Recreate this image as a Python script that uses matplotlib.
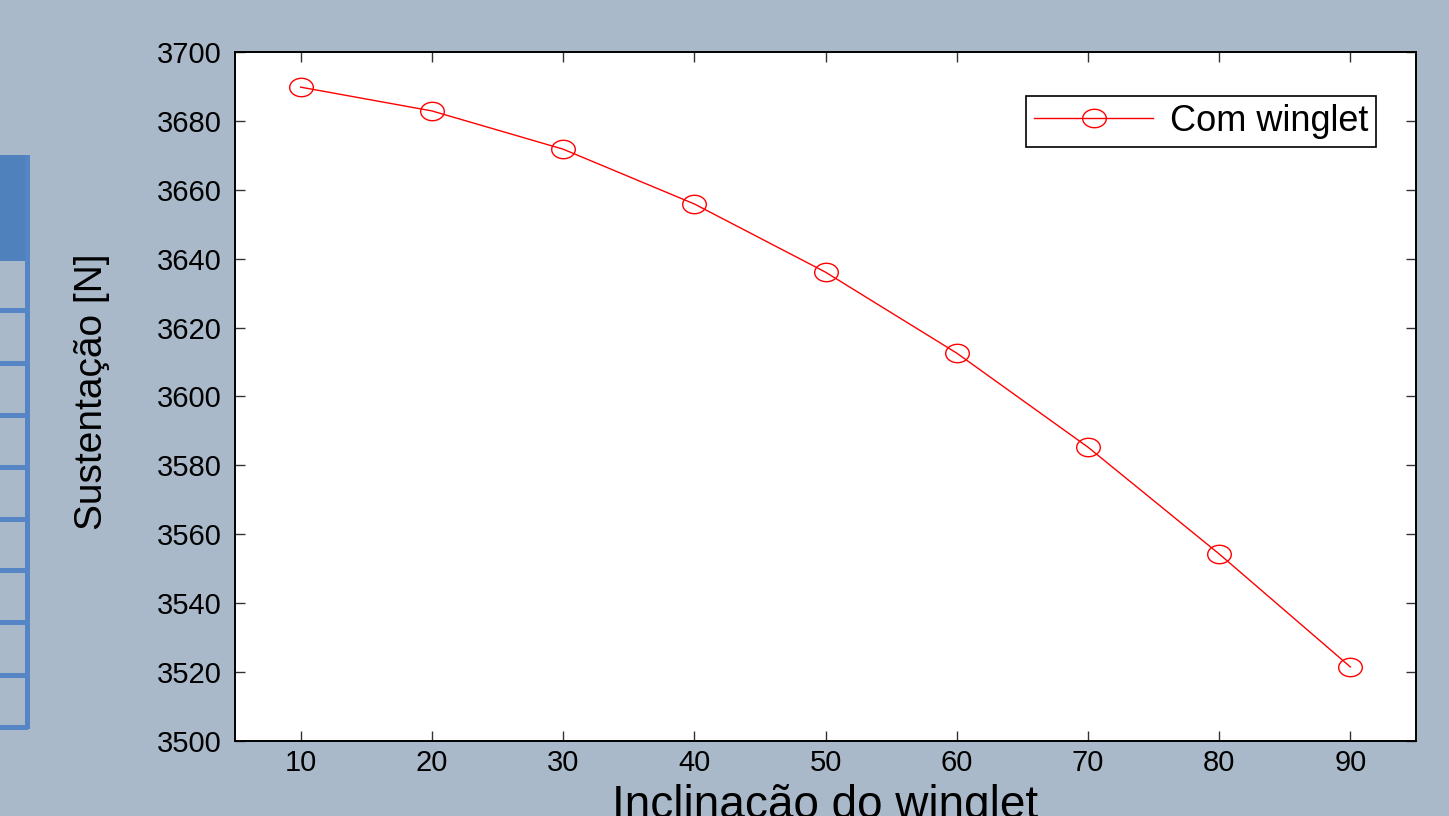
import numpy as np
import matplotlib
matplotlib.use("Agg")
import matplotlib.pyplot as plt
from matplotlib.path import Path
from matplotlib.patches import Rectangle

# inclinacao do winglet [graus] x sustentacao [N]
inclinacao = [10, 20, 30, 40, 50, 60, 70, 80, 90]
sustentacao = [3689.8, 3682.9, 3671.8, 3655.9, 3636.1, 3612.6, 3585.3, 3554.3, 3521.5]
yticks = [3500, 3520, 3540, 3560, 3580, 3600, 3620, 3640, 3660, 3680, 3700]
xticks = [10, 20, 30, 40, 50, 60, 70, 80, 90]

plt.rcParams['font.family'] = ['Liberation Sans', 'DejaVu Sans']

bg = '#a9b9c9'
blue = '#4f81bd'

W, H = 1449, 816
fig = plt.figure(figsize=(W / 100, H / 100), dpi=100, facecolor=bg)

# pedaco da tabela no canto esquerdo
px = lambda x0, y0, w, h: Rectangle((x0 / W, 1 - (y0 + h) / H), w / W, h / H,
                                    transform=fig.transFigure, lw=0)
hdr = px(0, 155, 29, 106)
hdr.set_facecolor(blue)
fig.patches.append(hdr)
vline = px(25, 155, 5, 574)
vline.set_facecolor('#5585c5')
fig.patches.append(vline)
for yl in [308, 361, 413, 465, 517, 568, 620, 673, 725]:
    r = px(0, yl, 28, 5)
    r.set_facecolor('#5585c5')
    fig.patches.append(r)

ax = fig.add_axes([235 / W, 1 - 741 / H, 1181 / W, 689 / H])
ax.set_facecolor('white')

# marcador eliptico (circulo esticado na horizontal)
t = np.linspace(0, 2 * np.pi, 60)
ellipse = Path(np.column_stack([np.cos(t), 0.78 * np.sin(t)]), closed=True)

ax.plot(inclinacao, sustentacao, color='red', lw=1.0, marker=ellipse,
        markersize=17, markerfacecolor='none', markeredgecolor='red',
        markeredgewidth=1.0, label='Com winglet')

ax.set_xlim(5, 95)
ax.set_ylim(3500, 3700)
ax.set_xticks(xticks)
ax.set_yticks(yticks)
ax.tick_params(direction='in', length=7, width=1, color='#333333',
               top=True, right=True, labelsize=21)
ax.tick_params(axis='y', pad=9.5)
ax.tick_params(axis='x', pad=6)
for s in ax.spines.values():
    s.set_linewidth(1.4)
    s.set_color('black')

ax.set_xlabel('Inclinacão do winglet', fontsize=33, va='baseline')
ax.xaxis.set_label_coords(0.5, -0.112)
ax.set_ylabel('Sustentação [N]', fontsize=28)
ax.yaxis.set_label_coords(-0.1058, 0.5065)

leg = ax.legend(loc='upper right', bbox_to_anchor=(0.9661, 0.9361),
                borderaxespad=0, fontsize=26, handlelength=3.3,
                handletextpad=0.45, borderpad=0.22, fancybox=False,
                framealpha=1, edgecolor='black')
leg.get_frame().set_linewidth(1.2)

fig.savefig('out.png', dpi=100, facecolor=bg)
